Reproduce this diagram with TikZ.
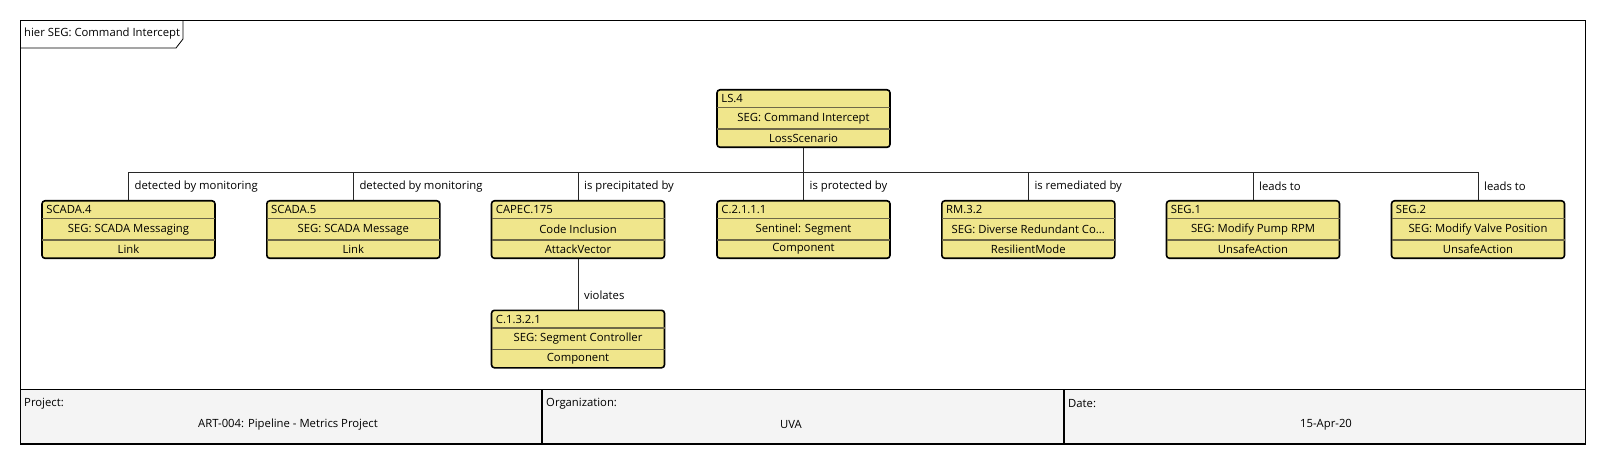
\documentclass[tikz,border=0pt]{standalone}
\usepackage{fontspec}
\setmainfont{Open Sans}
\definecolor{boxfill}{RGB}{240,230,140}
\definecolor{rowline}{RGB}{110,104,72}
\definecolor{footfill}{RGB}{244,244,244}
\definecolor{connc}{RGB}{40,40,40}
\tikzset{
  umlbox/.style={draw=black, line width=1.6pt, fill=boxfill, rounded corners=3pt,
    minimum width=173pt, minimum height=57.5pt, inner sep=0pt, anchor=north},
  rowsep/.style={draw=rowline, line width=1.4pt},
  txt/.style={font=\fontsize{11.3}{13}\selectfont, inner sep=0pt},
  conn/.style={draw=connc, line width=0.9pt},
  frameline/.style={draw=black, line width=1.8pt},
}
\newcommand{\umlbox}[6]{%
  % #1 name, #2 cx, #3 top, #4 id, #5 title, #6 type
  \node[umlbox] (#1) at (#2,#3) {};
  \draw[rowsep] ([xshift=0.8pt,yshift=-18.5pt]#1.north west) -- ([xshift=-0.8pt,yshift=-18.5pt]#1.north east);
  \draw[rowsep] ([xshift=0.8pt,yshift=-40pt]#1.north west) -- ([xshift=-0.8pt,yshift=-40pt]#1.north east);
  \node[txt, anchor=west] (#1-id) at ([xshift=5pt,yshift=-9.5pt]#1.north west) {#4};
  \node[txt] (#1-title) at ([yshift=-29.5pt]#1.north) {#5};
  \node[txt] (#1-type) at ([yshift=-49pt]#1.north) {#6};
}
\begin{document}
\begin{tikzpicture}[x=1pt,y=-1pt]
\useasboundingbox (0,0) rectangle (1607,465);
% footer
\fill[footfill] (20.5,389.5) rectangle (1585.5,443.8);
\draw[frameline] (20.5,389.5) -- (1585.5,389.5);
\draw[frameline] (542,389.5) -- (542,443.8);
\draw[frameline] (1064,389.5) -- (1064,443.8);
\node[txt, anchor=west] (projl) at (24,403.5) {Project:};
\node[txt] (projv) at (288,425) {ART-004: Pipeline - Metrics Project};
\node[txt, anchor=west] (orgl) at (546,403.5) {Organization:};
\node[txt] (orgv) at (791,425) {UVA};
\node[txt, anchor=west] (datel) at (1068,403.5) {Date:};
\node[txt] (datev) at (1326,425) {15-Apr-20};
% outer frame
\draw[frameline] (20.5,20.5) rectangle (1585.5,443.8);
% title tab
\draw[line width=0.8pt] (20.5,48) -- (176,48) -- (183,39) -- (183,20.5);
\node[txt, anchor=west] (title) at (24,34) {hier SEG: Command Intercept};
% boxes
\umlbox{ls}{803.5}{89}{LS.4}{SEG: Command Intercept}{LossScenario}
\umlbox{c1}{128.5}{200}{SCADA.4}{SEG: SCADA Messaging}{Link}
\umlbox{c2}{353.3}{200}{SCADA.5}{SEG: SCADA Message}{Link}
\umlbox{c3}{578}{200}{CAPEC.175}{Code Inclusion}{AttackVector}
\umlbox{c4}{803.5}{200}{C.2.1.1.1}{Sentinel: Segment}{Component}
\umlbox{c5}{1028.3}{200}{RM.3.2}{SEG: Diverse Redundant Co...}{ResilientMode}
\umlbox{c6}{1253}{200}{SEG.1}{SEG: Modify Pump RPM}{UnsafeAction}
\umlbox{c7}{1478}{200}{SEG.2}{SEG: Modify Valve Position}{UnsafeAction}
\umlbox{d1}{578}{309.5}{C.1.3.2.1}{SEG: Segment Controller}{Component}
% connectors
\coordinate (bus) at (0,172);
\foreach \c in {c1,c2,c3,c4,c5,c6,c7}{
  \draw[conn] (ls.south) -- (ls.south |- bus) -| (\c.north);
}
\draw[conn] (c3.south) -- (d1.north);
% labels
\node[txt, anchor=west] (l1) at ([xshift=6pt,yshift=13.5pt]c1.north) {detected by monitoring};
\node[txt, anchor=west] (l2) at ([xshift=6pt,yshift=13.5pt]c2.north) {detected by monitoring};
\node[txt, anchor=west] (l3) at ([xshift=6pt,yshift=13.5pt]c3.north) {is precipitated by};
\node[txt, anchor=west] (l4) at ([xshift=6pt,yshift=13.5pt]c4.north) {is protected by};
\node[txt, anchor=west] (l5) at ([xshift=6pt,yshift=13.5pt]c5.north) {is remediated by};
\node[txt, anchor=west] (l6) at ([xshift=6pt,yshift=13.5pt]c6.north) {leads to};
\node[txt, anchor=west] (l7) at ([xshift=6pt,yshift=13.5pt]c7.north) {leads to};
\node[txt, anchor=west] (l8) at ([xshift=6pt,yshift=14.5pt]d1.north) {violates};
\end{tikzpicture}
\end{document}
